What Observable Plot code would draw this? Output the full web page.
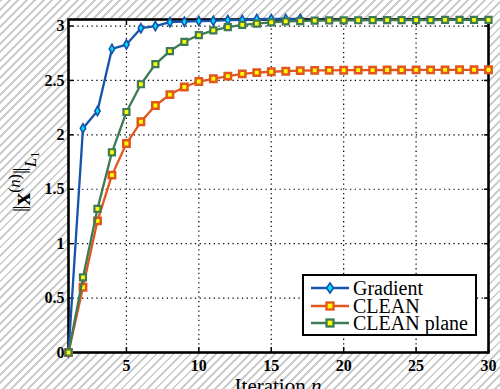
<!DOCTYPE html>
<html><head><meta charset="utf-8">
<script src="https://cdn.jsdelivr.net/npm/d3@7"></script>
<script src="https://cdn.jsdelivr.net/npm/@observablehq/plot@0.6"></script>
<style>
html,body{margin:0;padding:0;}
body{width:500px;height:389px;overflow:hidden;position:relative;background:#fff;}
#chart{position:absolute;left:0;top:0;}
.serif{font-family:"Liberation Serif","Times New Roman","DejaVu Serif",serif;}
#ylabel{position:absolute;left:25px;top:182px;transform:translate(-50%,-50%) rotate(-90deg);white-space:nowrap;font-size:25px;color:#000;line-height:25px;}
#ylabel sup{font-size:16px;vertical-align:10px;}
#ylabel sub{font-size:17px;vertical-align:-6px;}
#ylabel sub sub{font-size:12px;vertical-align:-3px;}
#xlabel{position:absolute;left:278px;top:376px;transform:translateX(-50%);white-space:nowrap;font-size:21px;color:#000;line-height:21px;}
#legend{position:absolute;left:302px;top:274px;width:171px;height:58px;border:2.5px solid #000;background:#fff;}
.lrow{position:absolute;left:0;height:18px;display:flex;align-items:center;font-size:20px;line-height:18px;white-space:nowrap;}
.lrow svg{margin-left:7px;margin-right:4px;}
</style></head><body>
<div id="chart"></div>
<div id="ylabel" class="serif">‖<b>x</b><sup>(<i>n</i>)</sup>‖<sub><i>L</i><sub>1</sub></sub></div>
<div id="xlabel" class="serif">Iteration <i>n</i></div>
<div id="legend"></div>
<script>
const iterations = [1,2,3,4,5,6,7,8,9,10,11,12,13,14,15,16,17,18,19,20,21,22,23,24,25,26,27,28,29,30];
const gradient = [0, 2.06, 2.22, 2.79, 2.83, 2.98, 3.00, 3.035, 3.04, 3.046, 3.048, 3.055, 3.056, 3.064, 3.065, 3.065, 3.066];
const clean = [0, 0.60, 1.21, 1.63, 1.92, 2.12, 2.27, 2.37, 2.44, 2.49, 2.515, 2.54, 2.56, 2.572, 2.58, 2.585, 2.59, 2.592, 2.593, 2.594, 2.595, 2.595, 2.596, 2.596, 2.597, 2.597, 2.597, 2.598, 2.598, 2.598];
const cleanPlane = [0, 0.69, 1.32, 1.84, 2.21, 2.465, 2.65, 2.77, 2.855, 2.917, 2.96, 2.99, 3.01, 3.022, 3.034, 3.042, 3.046, 3.049, 3.051, 3.052, 3.053, 3.054, 3.054, 3.055, 3.055, 3.055, 3.056, 3.056, 3.056, 3.056];
const seriesNames = ["Gradient", "CLEAN", "CLEAN plane"];
const xTicks = [5, 10, 15, 20, 25, 30];
const yTicks = [0, 0.5, 1, 1.5, 2, 2.5, 3];

const lineColors = ["#1553ad", "#e0561c", "#3d7a55"];
const markerFills = ["#00e0ff", "#ffff00", "#ffff00"];
const series = [gradient, clean, cleanPlane];

const rows = series.map((vals, s) => vals.map((v, i) => ({x: iterations[i], y: v, s: seriesNames[s]})));

const serif = '"Liberation Serif", "Times New Roman", "DejaVu Serif", serif';
const grid = {stroke: "#000", strokeOpacity: 1, strokeDasharray: "1.3,3.4", strokeWidth: 1.2};

const marks = [
  Plot.frame({fill: "white"}),
  Plot.gridX(xTicks.slice(0, -1), grid),
  Plot.gridY(yTicks.slice(1), grid),
  Plot.axisX(xTicks, {anchor: "bottom", tickSize: 0, tickPadding: 7, label: null, fontWeight: "bold", fontSize: 16, fontFamily: serif}),
  Plot.axisX(xTicks, {anchor: "bottom", tickSize: -5, tickFormat: () => "", label: null, strokeWidth: 1.5}),
  Plot.axisX(xTicks, {anchor: "top", tickSize: -5, tickFormat: () => "", label: null, strokeWidth: 1.5}),
  Plot.axisY(yTicks, {anchor: "left", tickSize: 0, tickPadding: 4, label: null, fontWeight: "bold", fontSize: 16, fontFamily: serif, tickFormat: d => String(d)}),
  Plot.axisY(yTicks, {anchor: "left", tickSize: -5, tickFormat: () => "", label: null, strokeWidth: 1.5}),
  Plot.axisY(yTicks, {anchor: "right", tickSize: -5, tickFormat: () => "", label: null, strokeWidth: 1.5}),
  Plot.frame({stroke: "#000", strokeWidth: 2.6})
];
rows.forEach((data, s) => {
  marks.push(Plot.line(data, {x: "x", y: "y", stroke: lineColors[s], strokeWidth: 2.3}));
  if (s === 0) {
    marks.push(Plot.dot(data, {x: "x", y: "y", symbol: "diamond", r: 2.8, fill: markerFills[s], stroke: lineColors[s], strokeWidth: 1.6}));
  } else {
    marks.push(Plot.dot(data, {x: "x", y: "y", symbol: "square", r: s === 1 ? 3.6 : 3.4, fill: markerFills[s], stroke: lineColors[s], strokeWidth: s === 1 ? 2.5 : 2.2}));
  }
});

const chart = Plot.plot({
  width: 500,
  height: 389,
  marginLeft: 68,
  marginRight: 12,
  marginTop: 19,
  marginBottom: 37,
  style: {background: "repeating-linear-gradient(135deg, #cdcdcd 0px, #cdcdcd 2px, #ffffff 2px, #ffffff 6px)", fontFamily: serif, color: "#000"},
  x: {domain: [1, 30]},
  y: {domain: [0, 3.06]},
  marks
});
document.getElementById("chart").appendChild(chart);

// legend
const legend = document.getElementById("legend");
seriesNames.forEach((name, s) => {
  const row = document.createElement("div");
  row.className = "lrow serif";
  row.style.top = (3 + s * 17.5) + "px";
  const sym = s === 0
    ? `<path d="M19,4 L22.5,9 L19,14 L15.5,9 Z" fill="${markerFills[s]}" stroke="${lineColors[s]}" stroke-width="1.6"/>`
    : `<rect x="15.5" y="5.5" width="7" height="7" fill="${markerFills[s]}" stroke="${lineColors[s]}" stroke-width="2.3"/>`;
  row.innerHTML = `<svg width="38" height="18"><line x1="0" y1="9" x2="38" y2="9" stroke="${lineColors[s]}" stroke-width="2.3"/>${sym}</svg><span>${name}</span>`;
  legend.appendChild(row);
});
</script>
</body></html>
